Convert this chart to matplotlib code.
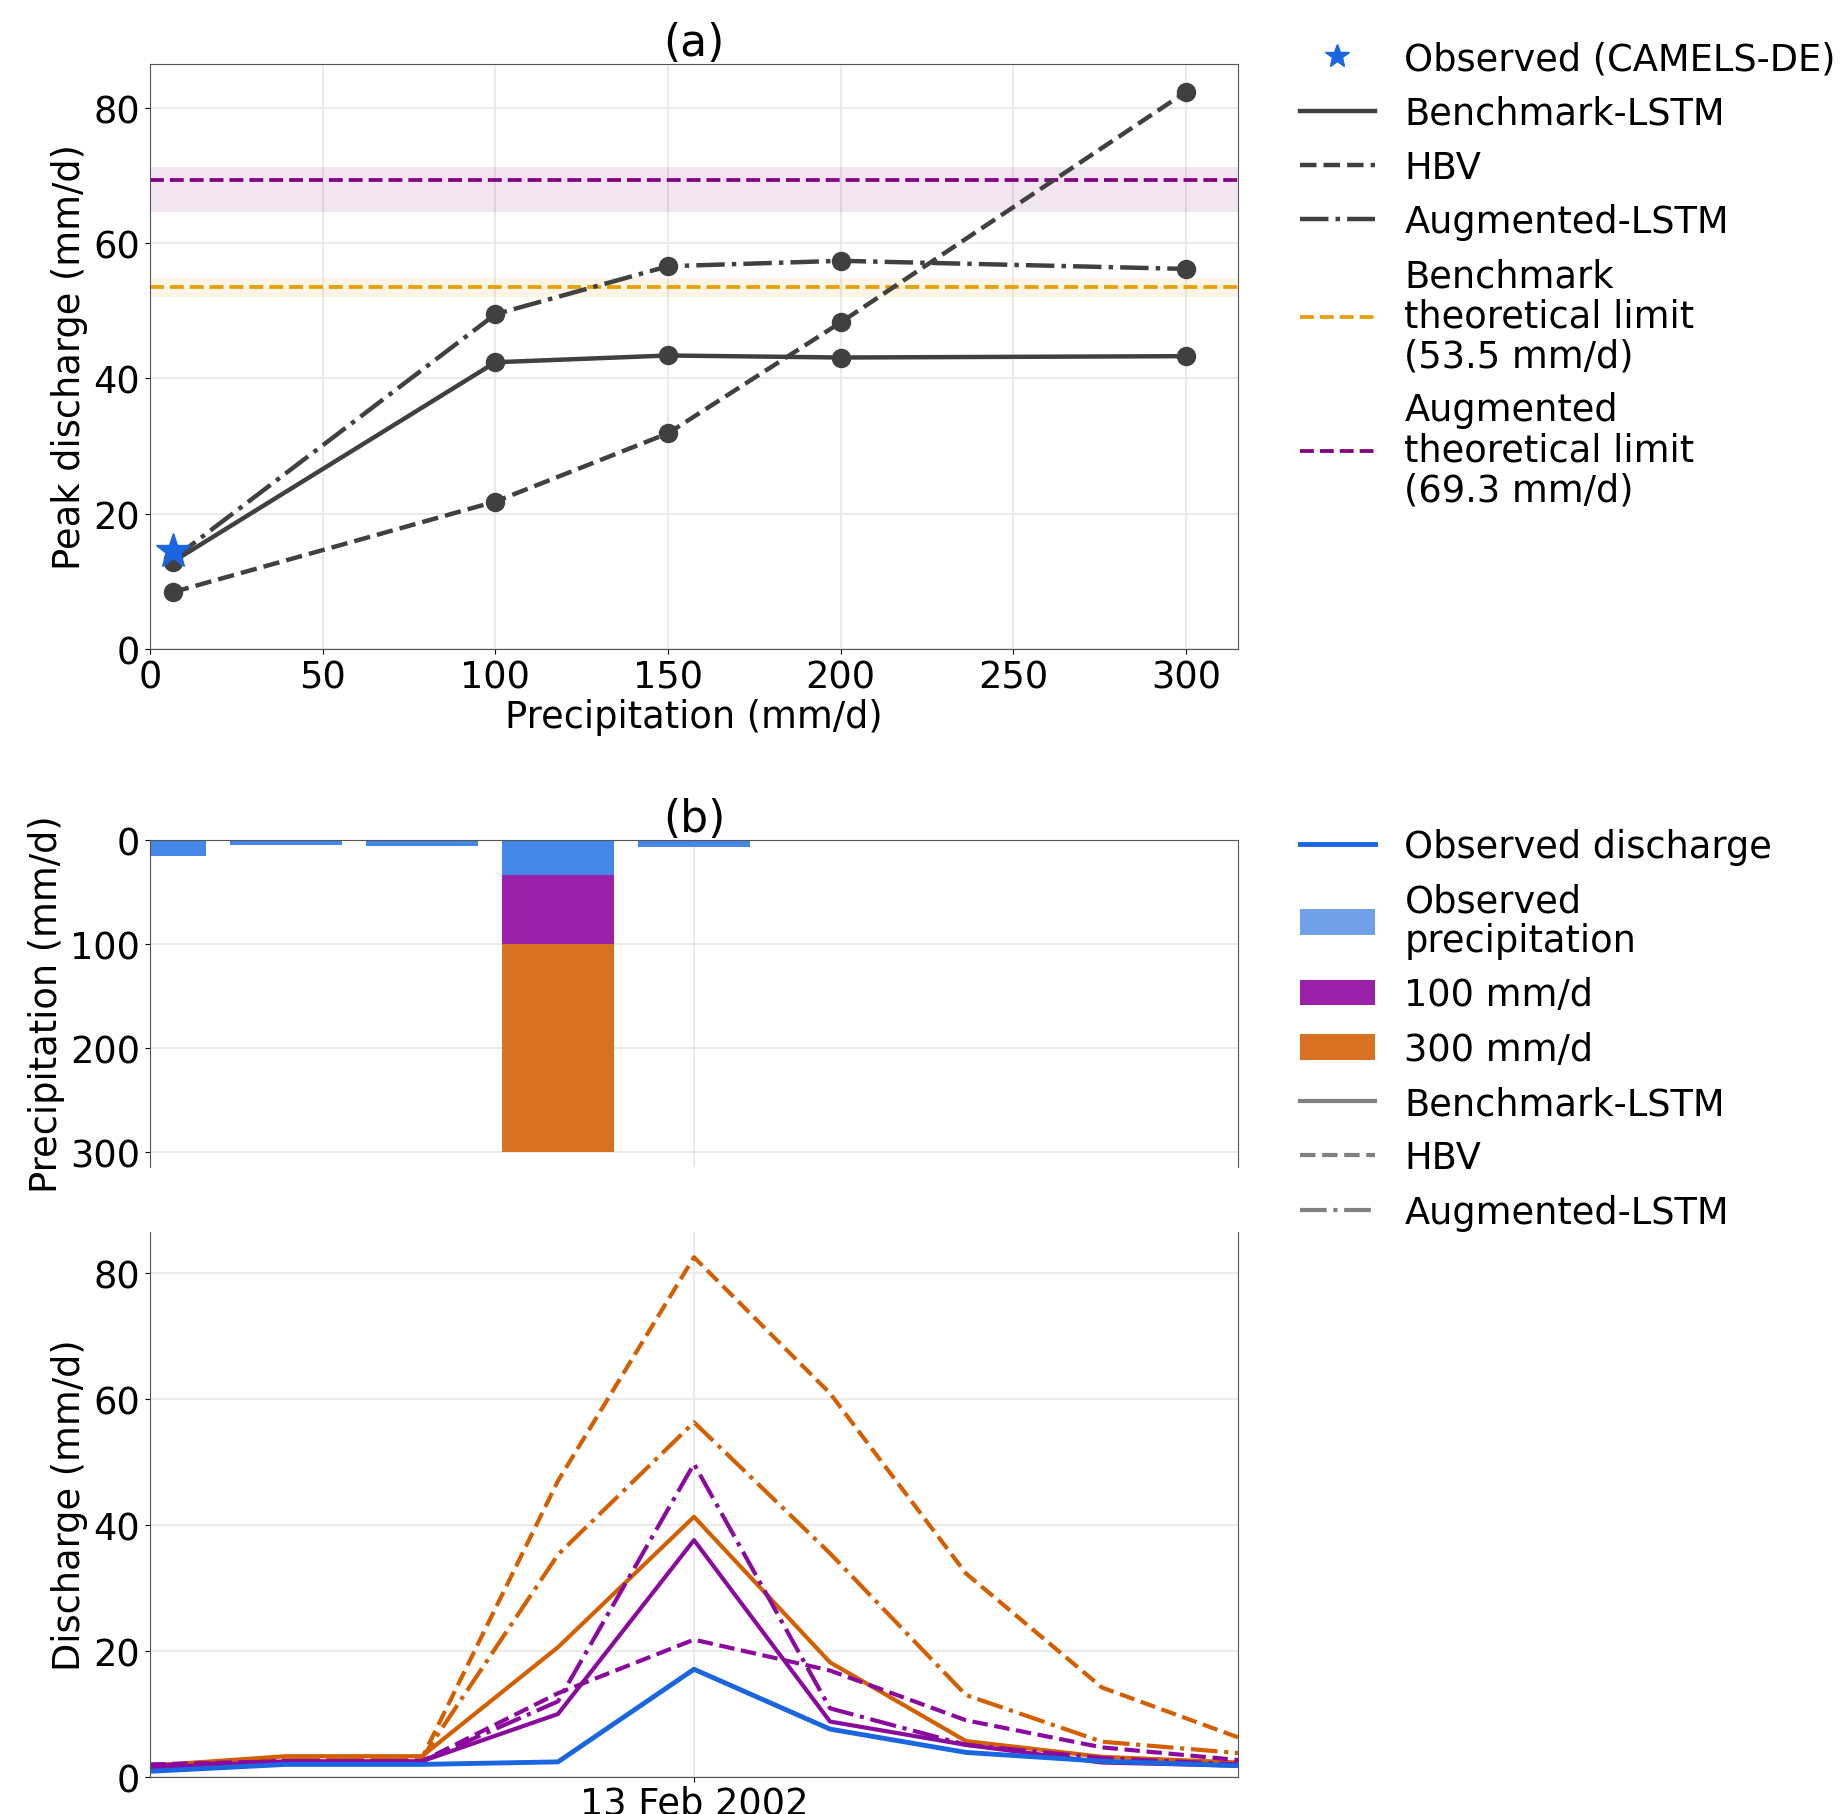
import numpy as np
import matplotlib
matplotlib.use('Agg')
import matplotlib.pyplot as plt
import matplotlib.dates as mdates
from matplotlib.lines import Line2D
from matplotlib.patches import Patch
import pandas as pd

plt.rcParams['font.family'] = ['DejaVu Sans']
plt.rcParams['font.size'] = 26.5

# ---- panel (a) data ----
precip_levels  = [6.6, 100, 150, 200, 300]
peak_benchmark = [12.9, 42.4, 43.4, 43.1, 43.3]
peak_hbv       = [8.4, 21.8, 31.9, 48.3, 82.4]
peak_augmented = [13.3, 49.5, 56.6, 57.4, 56.2]
obs_precip_a   = 6.6
obs_peak       = 14.5
bench_limit    = 53.5
bench_band     = [52.0, 54.8]
aug_limit      = 69.3
aug_band       = [64.6, 71.3]

# ---- panel (b) data ----
dates = pd.date_range('2002-02-09', '2002-02-17', freq='D')
obs_precip = [15, 5, 6, 34, 7, 0, 0, 0, 0]
extra_100  = [0, 0, 0, 100, 0, 0, 0, 0, 0]
extra_300  = [0, 0, 0, 300, 0, 0, 0, 0, 0]

q_obs      = [0.9, 2.0, 2.0, 2.4, 17.1, 7.6, 3.9, 2.5, 1.8]
q100_bench = [1.5, 2.5, 2.5, 10.0, 37.6, 8.8, 5.1, 2.3, 1.8]
q100_hbv   = [2.0, 2.5, 2.5, 13.3, 21.8, 16.9, 9.0, 4.7, 2.7]
q100_aug   = [1.8, 2.5, 2.5, 12.0, 49.7, 10.9, 5.1, 3.0, 2.0]
q300_bench = [1.8, 3.3, 3.3, 20.6, 41.3, 18.2, 5.7, 3.2, 2.3]
q300_hbv   = [1.8, 3.0, 3.0, 47.0, 82.5, 60.9, 32.3, 14.2, 6.3]
q300_aug   = [1.8, 3.0, 3.0, 35.3, 56.3, 35.5, 13.0, 5.6, 3.8]

dark = '#404040'
c_blue = '#1a66e0'
c_purple = '#8b0a9e'
c_orange = '#d35f00'
grid_kw = dict(color='#e6e6e6', linewidth=1.2)
leg_kw = dict(loc='upper left', frameon=False, handlelength=2.05, handletextpad=0.8,
              labelspacing=0.47, borderaxespad=0)

fig = plt.figure(figsize=(18.44, 18.15), dpi=100)

# ---------------- (a) ----------------
ax = fig.add_axes([150/1844, 1-650/1815, 1088/1844, 585/1815])
ax.grid(True, **grid_kw)
ax.set_axisbelow(True)
ax.fill_between([0, 315], aug_band[0], aug_band[1], color='#800080', alpha=0.1, lw=0)
ax.fill_between([0, 315], bench_band[0], bench_band[1], color='#E69F00', alpha=0.1, lw=0)
ax.axhline(aug_limit, color='#800080', ls='--', lw=2.7)
ax.axhline(bench_limit, color='#E69F00', ls='--', lw=2.7)
ax.plot(precip_levels, peak_benchmark, '-', color=dark, lw=3.2, marker='o', ms=13)
ax.plot(precip_levels, peak_hbv, '--', color=dark, lw=3.2, marker='o', ms=13)
ax.plot(precip_levels, peak_augmented, '-.', color=dark, lw=3.2, marker='o', ms=13)
ax.plot([obs_precip_a], [obs_peak], '*', color=c_blue, ms=26, zorder=5)
ax.set_xlim(0, 315)
ax.set_ylim(0, 86.5)
ax.set_xticks([0, 50, 100, 150, 200, 250, 300])
ax.set_yticks([0, 20, 40, 60, 80])
ax.set_xlabel('Precipitation (mm/d)', labelpad=2)
ax.set_ylabel('Peak discharge (mm/d)')
ax.set_title('(a)', pad=2)
for s in ax.spines.values():
    s.set_color('#555555')

h_a = [Line2D([], [], ls='none', marker='*', color=c_blue, ms=18),
       Line2D([], [], ls='-', color=dark, lw=3.2),
       Line2D([], [], ls='--', color=dark, lw=3.2),
       Line2D([], [], ls='-.', color=dark, lw=3.2),
       Line2D([], [], ls='--', color='#E69F00', lw=2.7),
       Line2D([], [], ls='--', color='#800080', lw=2.7)]
l_a = ['Observed (CAMELS-DE)', 'Benchmark-LSTM', 'HBV', 'Augmented-LSTM',
       'Benchmark\ntheoretical limit\n(53.5 mm/d)',
       'Augmented\ntheoretical limit\n(69.3 mm/d)']
leg_a = ax.legend(h_a, l_a, bbox_to_anchor=(1.043, 1.066), **leg_kw)
for t in leg_a.get_texts():
    t.set_linespacing(1.1)

# ---------------- (b) precipitation ----------------
axp = fig.add_axes([150/1844, 1-1168/1815, 1088/1844, 327/1815])
axq = fig.add_axes([150/1844, 1-1778/1815, 1088/1844, 545/1815], sharex=axp)

axp.grid(True, **grid_kw)
axp.set_axisbelow(True)
axp.bar(dates, extra_300, width=0.83, color='#d87222')
axp.bar(dates, extra_100, width=0.83, color='#9b22a8')
axp.bar(dates, obs_precip, width=0.83, color='#4587e6')
axp.set_ylim(314, 0)
axp.set_yticks([0, 100, 200, 300])
axp.set_ylabel('Precipitation (mm/d)')
axp.set_title('(b)', pad=4)
axp.spines['bottom'].set_visible(False)
axp.tick_params(axis='x', bottom=False, labelbottom=False)
for s in axp.spines.values():
    s.set_color('#555555')

# ---------------- (b) discharge ----------------
axq.grid(True, **grid_kw)
axq.set_axisbelow(True)
axq.plot(dates, q300_hbv, '--', color=c_orange, lw=3)
axq.plot(dates, q300_aug, '-.', color=c_orange, lw=3)
axq.plot(dates, q300_bench, '-', color=c_orange, lw=3)
axq.plot(dates, q100_hbv, '--', color=c_purple, lw=3)
axq.plot(dates, q100_aug, '-.', color=c_purple, lw=3)
axq.plot(dates, q100_bench, '-', color=c_purple, lw=3)
axq.plot(dates, q_obs, '-', color=c_blue, lw=3.5)
axq.set_xlim(dates[0], dates[-1])
axq.set_ylim(0, 86.5)
axq.set_yticks([0, 20, 40, 60, 80])
axq.set_xticks([pd.Timestamp('2002-02-13')])
axq.xaxis.set_major_formatter(mdates.DateFormatter('%d %b %Y'))
axq.tick_params(axis='x', pad=2)
axq.set_ylabel('Discharge (mm/d)')
axq.spines['top'].set_visible(False)
for s in axq.spines.values():
    s.set_color('#555555')

grey = '#808080'
h_b = [Line2D([], [], color=c_blue, lw=3.5),
       Patch(facecolor='#70a0e8'),
       Patch(facecolor='#9b22a8'),
       Patch(facecolor='#d87222'),
       Line2D([], [], ls='-', color=grey, lw=3),
       Line2D([], [], ls='--', color=grey, lw=3),
       Line2D([], [], ls='-.', color=grey, lw=3)]
l_b = ['Observed discharge', 'Observed\nprecipitation', '100 mm/d', '300 mm/d',
       'Benchmark-LSTM', 'HBV', 'Augmented-LSTM']
leg_b = axp.legend(h_b, l_b, bbox_to_anchor=(1.043, 1.082), **leg_kw)
for t in leg_b.get_texts():
    t.set_linespacing(1.1)

fig.savefig('out.png', dpi=100)
